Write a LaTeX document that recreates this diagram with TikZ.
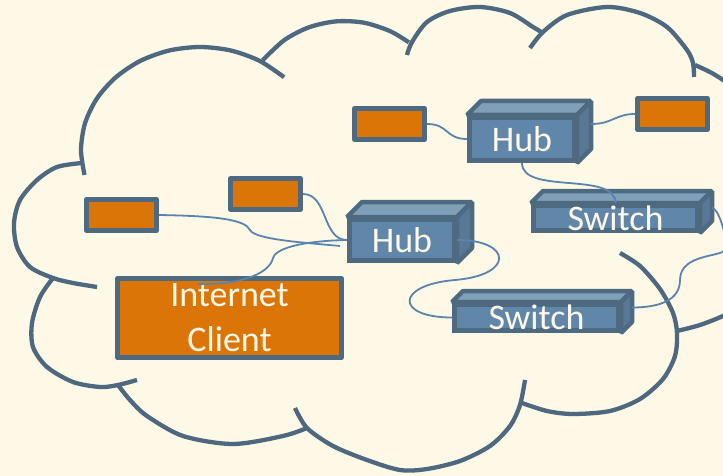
\documentclass[tikz,border=0pt]{standalone}
\usepackage{fontspec}
\setmainfont{Carlito}
\usetikzlibrary{calc}
\definecolor{bgc}{HTML}{FEF8E6}
\definecolor{cloudc}{HTML}{4E687F}
\definecolor{bordc}{HTML}{4E6A80}
\definecolor{orangec}{HTML}{DB7508}
\definecolor{frontc}{HTML}{6087AA}
\definecolor{topc}{HTML}{809FB8}
\definecolor{sidec}{HTML}{587896}
\definecolor{connc}{HTML}{5A84AE}
\newcommand\threedfaces[2]{%
  \filldraw[topf] (#1.north west) -- ++(#2,-#2) -- ($(#1.north east)+(#2,-#2)$) -- (#1.north east) -- cycle;
  \filldraw[sidef] (#1.north east) -- ++(#2,-#2) -- ($(#1.south east)+(#2,-#2)$) -- (#1.south east) -- cycle;
}
\begin{document}
\begin{tikzpicture}[x=1pt,y=-1pt,
  cloudline/.style={draw=cloudc, line width=4.3pt},
  conn/.style={draw=connc, line width=1.8pt},
  obox/.style={draw=bordc, fill=orangec, line width=5pt, rectangle, inner sep=0pt, line join=round},
  front/.style={draw=bordc, fill=frontc, line width=5pt, rectangle, inner sep=0pt, line join=miter},
  topf/.style={draw=bordc, fill=topc, line width=4.5pt, line join=bevel},
  sidef/.style={draw=bordc, fill=sidec, line width=4.5pt, line join=bevel},
  lbl/.style={text=bgc, font=\fontsize{36}{44}\selectfont, inner sep=0pt}]
\useasboundingbox (0,0) rectangle (723,476);
\fill[bgc] (0,0) rectangle (723,476);
\clip (0,0) rectangle (723,476);

% cloud
\draw[cloudline] plot[smooth] coordinates {(84.5,174.9) (81,150) (85,123.3) (96.9,98.5) (115.9,77.2) (140.5,60.8) (169.2,50.5) (200,47) (230.8,50.5) (259.5,60.8) (284.1,77.2)};
\draw[cloudline] plot[smooth] coordinates {(262.6,60.3) (284.2,40.2) (308.7,27.4) (335.8,21.4) (363.4,22.6) (389.8,31) (408.8,42.3)};
\draw[cloudline] plot[smooth] coordinates {(407,55) (412,42) (427,22) (450,11) (480,7) (510,13) (533,27) (543,33)};
\draw[cloudline] plot[smooth] coordinates {(530,48) (543,32) (567,15) (607,7) (640,13) (667,27) (687,50) (693,63) (694,77)};
\draw[cloudline] plot[smooth] coordinates {(695,65) (710,72) (723,80) (740,93)};
\draw[cloudline] plot[smooth] coordinates {(677,331) (700,325) (723,316) (745,305)};
\draw[cloudline] plot[smooth] coordinates {(620,253) (640,266) (660,289) (673,313) (677,333) (675,356) (663,379) (640,399) (610,411) (573,414) (547,411) (522,403)};
\draw[cloudline] plot[smooth] coordinates {(295,408) (307,428) (333,446) (367,460) (400,470) (427,469) (460,461) (490,446) (510,426) (520,405) (525,380)};
\draw[cloudline] plot[smooth] coordinates {(118,385) (130,400) (147,416) (183,436) (233,444) (283,436) (307,428)};
\draw[cloudline] plot[smooth] coordinates {(53,278) (40,297) (32,323) (33,347) (47,367) (73,382) (100,387) (118,385) (137,380)};
\draw[cloudline] plot[smooth] coordinates {(82,163) (57,167) (37,180) (20,200) (14,223) (17,247) (30,267) (53,278) (73,283) (97,287)};

% boxes
\node[obox, minimum width=70pt, minimum height=31pt] (b1) at (389.5,124) {};
\node[obox, minimum width=70pt, minimum height=31pt] (b2) at (672.5,114) {};
\node[obox, minimum width=70pt, minimum height=31pt] (b3) at (121.5,215) {};
\node[obox, minimum width=70pt, minimum height=31pt] (b4) at (265.5,194) {};
\node[obox, minimum width=224pt, minimum height=79pt, text=bgc, align=center,
      font=\fontsize{36}{45}\selectfont] (IC) at (229.5,318) {Internet\\Client};

% hubs and switches
\node[front, minimum width=105pt, minimum height=43pt, label={[lbl]center:Hub}] (hubA) at (522,139) {};
\threedfaces{hubA}{14}
\node[front, minimum width=105pt, minimum height=41pt, label={[lbl]center:Hub}] (hubB) at (402,240) {};
\threedfaces{hubB}{15}
\node[front, minimum width=164pt, minimum height=25pt, label={[lbl]center:Switch}] (swA) at (615.5,218) {};
\threedfaces{swA}{12}
\node[front, minimum width=164pt, minimum height=26pt, label={[lbl]center:Switch}] (swB) at (536.5,317.5) {};
\threedfaces{swB}{11}

% connector end points
\coordinate (s2) at ($(hubA.east)+(14,-15)$);
\coordinate (s4) at ($(swA.east)+(12,-10)$);
\coordinate (e4) at ($(swB.east)+(11,-10)$);
\coordinate (w4a) at (726,248);
\coordinate (w4b) at (680,280);
\coordinate (w5) at (455,280);
\coordinate (w6) at (250,230);
\coordinate (e6) at ($(hubB.west)+(-7,6)$);
\coordinate (s8) at ($(IC.north)+(-32,8)$);
\coordinate (w8) at (273,258);

% connectors
\draw[conn] (b1.east) .. controls +(22,0) and +(-22,0) .. (hubA.west);
\draw[conn] (s2) .. controls +(22,0) and +(-20,0) .. (b2.west);
\draw[conn] (hubA.south) .. controls +(0,32) and +(0,-32) .. (swA.north);
\draw[conn] (s4) .. controls (718,208) and (726,232) .. (w4a)
   .. controls (726,258) and (680,252) .. (w4b)
   .. controls (680,300) and (660,307.5) .. (e4);
\draw[conn] (hubB.east) .. controls +(55,0) and (515,275) .. (w5)
   .. controls (395,285) and +(-57,0) .. (swB.west);
\draw[conn] (b3.east) .. controls (220,216) and (245,220) .. (w6)
   .. controls (255,240) and (310,243) .. (e6);
\draw[conn] (b4.east) .. controls +(25,0) and +(-25,0) .. (hubB.west);
\draw[conn] (s8) .. controls (245,285) and (270,272) .. (w8)
   .. controls (275,249) and (300,241) .. (hubB.west);
\end{tikzpicture}
\end{document}
